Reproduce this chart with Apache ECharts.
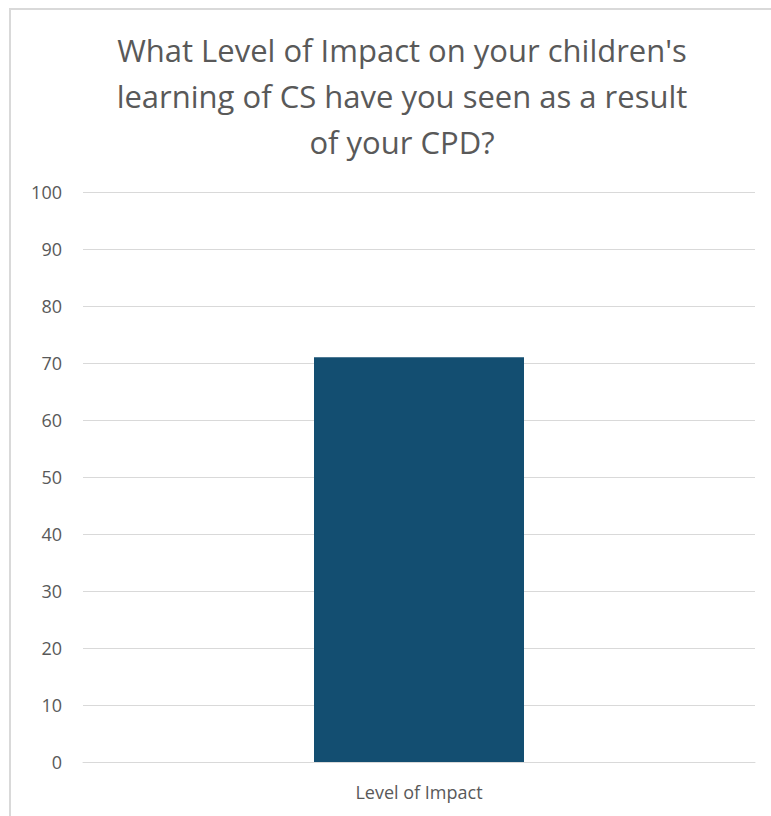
<!DOCTYPE html>
<html>
<head>
<meta charset="utf-8">
<script src="https://cdn.jsdelivr.net/npm/echarts@6/dist/echarts.min.js"></script>
<style>
  html, body { margin: 0; padding: 0; background: #fff; }
  #frame { position: absolute; left: 9px; top: 8px; width: 800px; height: 850px;
           border: 2px solid #d9d9d9; box-sizing: border-box; }
  #chart { position: absolute; left: 0; top: 0; width: 771px; height: 816px; }
</style>
</head>
<body>
<div id="frame"></div>
<div id="chart"></div>
<script>
var categories = ['Level of Impact'];
var values = [71];
var titleText = "What Level of Impact on your children's\nlearning of CS have you seen as a result\nof your CPD?";

var chart = echarts.init(document.getElementById('chart'), null, { renderer: 'svg' });
chart.setOption({
  animation: false,
  title: {
    text: titleText,
    left: 397,
    textAlign: 'center',
    top: 22,
    textStyle: {
      fontFamily: 'Open Sans',
      fontSize: 31,
      fontWeight: 'normal',
      color: '#595959',
      lineHeight: 46
    }
  },
  grid: { left: 83, right: 16, top: 192, bottom: 54 },
  xAxis: {
    type: 'category',
    data: categories,
    axisLine: { show: true, lineStyle: { color: '#d9d9d9', width: 1 } },
    axisTick: { show: false },
    axisLabel: { color: '#595959', fontSize: 18, fontFamily: 'Open Sans', margin: 21 }
  },
  yAxis: {
    type: 'value',
    min: 0,
    max: 100,
    interval: 10,
    axisLine: { show: false },
    axisTick: { show: false },
    axisLabel: { color: '#595959', fontSize: 18, fontFamily: 'Open Sans', margin: 21 },
    splitLine: { lineStyle: { color: '#d9d9d9', width: 1 } }
  },
  series: [{
    type: 'bar',
    data: values,
    barWidth: 210,
    itemStyle: { color: '#134e71' }
  }]
});
</script>
</body>
</html>
